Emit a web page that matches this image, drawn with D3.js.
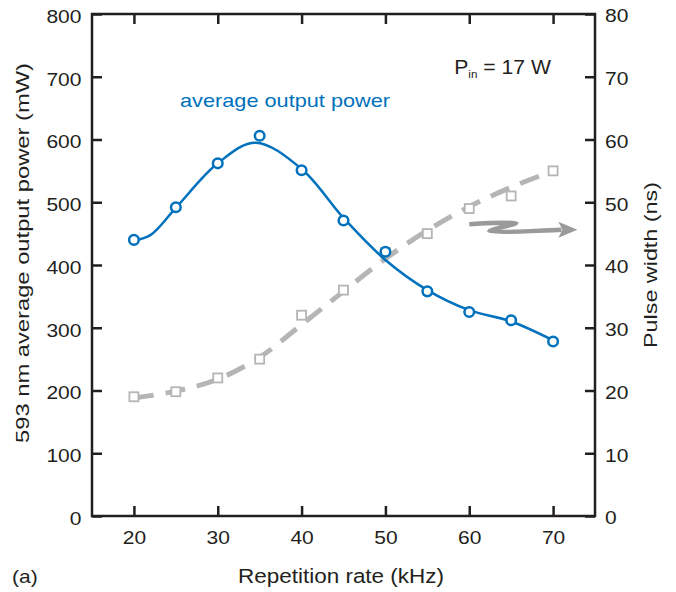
<!DOCTYPE html>
<html>

<head>
    <meta charset="UTF-8">
    <title>Repetition rate vs output power and pulse width</title>
    <script src="https://d3js.org/d3.v7.min.js"></script>
    <style>
        body { margin: 0; background: #fff; }
        text { font-family: "Liberation Sans", Arial, sans-serif; fill: #231f20; }
    </style>
</head>

<body>
    <div class="canvas"></div>

    <script>
        // data
        const repRate = [20, 25, 30, 35, 40, 45, 50, 55, 60, 65, 70];            // kHz
        const avgPower = [440, 492, 562, 606, 551, 471, 421, 358, 325, 312, 278]; // mW
        const pulseWidth = [19, 19.8, 22, 25, 32, 36, 42, 45, 49, 51, 55];       // ns

        // fitted curves
        const powerFitX = [20, 22, 25, 30, 34.5, 40, 45, 50, 55, 60, 65, 70];
        const powerFitY = [439, 448, 491, 562, 595, 553, 475, 408, 360, 328, 310, 280];
        const widthFitX = [20, 25, 30, 35, 40, 45, 50, 55, 60, 65, 70];
        const widthFitY = [18.8, 19.9, 21.8, 25.3, 30.5, 35.8, 41, 45.5, 49.3, 52.4, 55];

        const xTicks = [20, 30, 40, 50, 60, 70];
        const yLeftTicks = [0, 100, 200, 300, 400, 500, 600, 700, 800];
        const yRightTicks = [0, 10, 20, 30, 40, 50, 60, 70, 80];

        // dimensions
        const width = 676;
        const height = 592;
        const margin = { top: 14, right: 81, bottom: 76, left: 92 };
        const graphWidth = width - margin.left - margin.right;
        const graphHeight = height - margin.top - margin.bottom;

        const blue = "#0071bc";
        const grey = "#b5b5b5";

        const svg = d3.select(".canvas")
            .append("svg")
            .attr("width", width)
            .attr("height", height);

        const graph = svg.append("g")
            .attr("transform", `translate(${margin.left}, ${margin.top})`);

        const x = d3.scaleLinear().domain([15, 75]).range([0, graphWidth]);
        const yL = d3.scaleLinear().domain([0, 800]).range([graphHeight, 0]);
        const yR = d3.scaleLinear().domain([0, 80]).range([graphHeight, 0]);

        // the lettering in the figure is wider than Arial, stretch it a bit
        const stretch = (sel, k) => sel.each(function () {
            const len = this.getComputedTextLength();
            d3.select(this).attr("textLength", len * k).attr("lengthAdjust", "spacingAndGlyphs");
        });
        const fitWidth = (sel, w) => sel.attr("textLength", w).attr("lengthAdjust", "spacingAndGlyphs");

        // axes, ticks inward
        const tickLen = 10;
        const fs = 18.6;
        const styleAxis = g => {
            g.select(".domain").remove();
            g.selectAll(".tick line").attr("stroke", "#231f20").attr("stroke-width", 2.5);
            g.selectAll(".tick text").attr("font-size", fs).attr("fill", "#231f20");
        };

        graph.append("g")
            .attr("transform", `translate(0, ${graphHeight})`)
            .call(d3.axisBottom(x).tickValues(xTicks).tickSizeInner(-tickLen).tickSizeOuter(0).tickPadding(15))
            .call(styleAxis)
            .selectAll(".tick text").call(stretch, 1.13);

        graph.append("g")
            .call(d3.axisTop(x).tickValues(xTicks).tickSizeInner(-tickLen).tickSizeOuter(0).tickFormat(""))
            .call(styleAxis);

        graph.append("g")
            .call(d3.axisLeft(yL).tickValues(yLeftTicks).tickSizeInner(-tickLen).tickSizeOuter(0).tickPadding(10.5))
            .call(styleAxis)
            .selectAll(".tick text").attr("dy", "0.45em").call(stretch, 1.13);

        graph.append("g")
            .attr("transform", `translate(${graphWidth}, 0)`)
            .call(d3.axisRight(yR).tickValues(yRightTicks).tickSizeInner(-tickLen).tickSizeOuter(0).tickPadding(10))
            .call(styleAxis)
            .selectAll(".tick text").attr("dy", "0.42em").call(stretch, 1.13);

        // frame
        graph.append("rect")
            .attr("width", graphWidth)
            .attr("height", graphHeight)
            .attr("fill", "none")
            .attr("stroke", "#231f20")
            .attr("stroke-width", 2.5);

        // pulse width fit, dashed grey
        const widthLine = d3.line()
            .x((d, i) => x(widthFitX[i]))
            .y(d => yR(d))
            .curve(d3.curveCatmullRom);

        graph.append("path")
            .datum(widthFitY)
            .attr("d", widthLine)
            .attr("fill", "none")
            .attr("stroke", grey)
            .attr("stroke-width", 5)
            .attr("stroke-dasharray", "20 12");

        graph.selectAll(".sq")
            .data(pulseWidth)
            .enter()
            .append("rect")
            .attr("class", "sq")
            .attr("x", (d, i) => x(repRate[i]) - 4.5)
            .attr("y", d => yR(d) - 4.5)
            .attr("width", 9)
            .attr("height", 9)
            .attr("fill", "#fff")
            .attr("stroke", grey)
            .attr("stroke-width", 1.8);

        // power fit, solid blue
        const powerLine = d3.line()
            .x((d, i) => x(powerFitX[i]))
            .y(d => yL(d))
            .curve(d3.curveCatmullRom);

        graph.append("path")
            .datum(powerFitY)
            .attr("d", powerLine)
            .attr("fill", "none")
            .attr("stroke", blue)
            .attr("stroke-width", 2.5);

        graph.selectAll(".dot")
            .data(avgPower)
            .enter()
            .append("circle")
            .attr("class", "dot")
            .attr("cx", (d, i) => x(repRate[i]))
            .attr("cy", d => yL(d))
            .attr("r", 4.8)
            .attr("fill", "#fff")
            .attr("stroke", blue)
            .attr("stroke-width", 2.5);

        // arrow pointing to the right axis
        const arrowPts = [[60, 46.5], [65.6, 46.7], [62.4, 45.4], [71, 45.6]];
        const arrowCol = "#9a9a9a";
        graph.append("path")
            .attr("d", d3.line().x(d => x(d[0])).y(d => yR(d[1])).curve(d3.curveCatmullRom)(arrowPts))
            .attr("fill", "none")
            .attr("stroke", arrowCol)
            .attr("stroke-width", 4.5);
        const tip = [x(72.9), yR(45.6)];
        graph.append("path")
            .attr("d", `M${tip[0]},${tip[1]} L${tip[0] - 19},${tip[1] - 8} L${tip[0] - 15},${tip[1]} L${tip[0] - 19},${tip[1] + 8} Z`)
            .attr("fill", arrowCol);

        // annotations
        graph.append("text")
            .attr("x", x(25.5))
            .attr("y", yL(652))
            .attr("font-size", 19)
            .style("fill", blue)
            .text("average output power")
            .call(fitWidth, 210);

        const pinX = x(58.2);
        const pin = graph.append("text")
            .attr("x", pinX)
            .attr("y", yR(70.5))
            .attr("font-size", 20)
            .attr("transform", `translate(${pinX}, 0) scale(1.06, 1) translate(${-pinX}, 0)`);
        pin.append("tspan").text("P");
        pin.append("tspan").attr("font-size", 11).attr("dy", 4).text("in");
        pin.append("tspan").attr("dy", -4).text(" = 17 W");

        // axis labels
        svg.append("text")
            .attr("x", 341)
            .attr("y", 582.5)
            .attr("text-anchor", "middle")
            .attr("font-size", 20.5)
            .text("Repetition rate (kHz)")
            .call(fitWidth, 206);

        svg.append("text")
            .attr("x", 12)
            .attr("y", 582.5)
            .attr("font-size", 18.6)
            .text("(a)")
            .call(stretch, 1.13);

        svg.append("text")
            .attr("transform", `translate(28.5, 253) rotate(-90)`)
            .attr("text-anchor", "middle")
            .attr("font-size", 18.6)
            .text("593 nm average output power (mW)")
            .call(fitWidth, 380);

        svg.append("text")
            .attr("transform", `translate(656.5, 265) rotate(-90)`)
            .attr("text-anchor", "middle")
            .attr("font-size", 18.6)
            .text("Pulse width (ns)")
            .call(fitWidth, 166);
    </script>
</body>

</html>
